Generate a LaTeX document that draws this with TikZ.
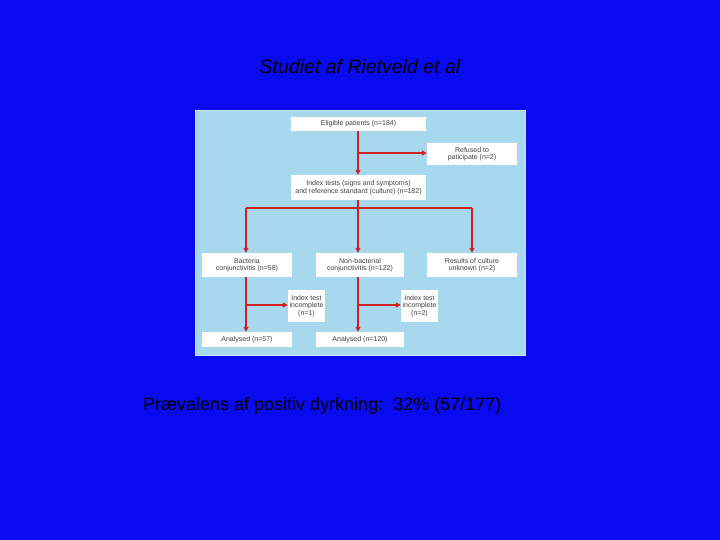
\documentclass[tikz,border=0pt]{standalone}
\usepackage{fontspec}
\setmainfont{Liberation Sans}
\usetikzlibrary{arrows.meta}
\definecolor{bg}{HTML}{0A0AF0}
\definecolor{panel}{HTML}{A8D8EE}
\definecolor{ar}{HTML}{D02020}
\begin{document}
\begin{tikzpicture}[x=1pt,y=-1pt,
  box/.style={draw=none,fill=white,align=center,font=\fontsize{7}{7.4}\selectfont,text=black!75,inner sep=0pt},
  ln/.style={draw=ar,line width=1.2pt},
  arr/.style={ln,-{Triangle[length=5pt,width=5pt]}}]
\useasboundingbox[fill=bg] (0,0) rectangle (720,540);
\node[font=\itshape\fontsize{19.5}{22}\selectfont,text=black] (title) at (360,67) {Studiet af Rietveld et al};
\node[fill=panel,draw=panel!70!white,line width=1pt,minimum width=330,minimum height=245,inner sep=0pt,anchor=north west] (panel) at (195,110) {};
\node[box,minimum width=135,minimum height=14] (elig) at (358.5,124) {Eligible patients (n=184)};
\node[box,minimum width=90,minimum height=22] (ref) at (472,154) {Refused to\\paticipate (n=2)};
\node[box,minimum width=135,minimum height=25] (idx) at (358.5,187.5) {Index tests (signs and symptoms)\\and reference standard (culture) (n=182)};
\node[box,minimum width=90,minimum height=24] (bac) at (247,265) {Bacteria\\conjunctivitis (n=58)};
\node[box,minimum width=88,minimum height=24] (non) at (360,265) {Non-bacterial\\conjunctivitis (n=122)};
\node[box,minimum width=90,minimum height=24] (res) at (472,265) {Results of culture\\unknown (n=2)};
\node[box,minimum width=37,minimum height=32] (inc1) at (306.5,306) {Index test\\incomplete\\(n=1)};
\node[box,minimum width=37,minimum height=32] (inc2) at (419.5,306) {Index test\\incomplete\\(n=2)};
\node[box,minimum width=90,minimum height=15] (an1) at (247,339.5) {Analysed (n=57)};
\node[box,minimum width=88,minimum height=15] (an2) at (360,339.5) {Analysed (n=120)};
\coordinate (m) at (358,153);
\coordinate (b) at (358,208);
\coordinate (bl) at (246,208);
\coordinate (br) at (472,208);
\coordinate (s1) at (246,305);
\coordinate (s2) at (358,305);
\draw[arr] (elig.south -| m) -- (idx.north -| m);
\draw[arr] (m) -- (ref.west |- m);
\draw[ln] (idx.south -| b) -- (b);
\draw[ln] (bl) -- (br);
\draw[arr] (b) -- (non.north -| b);
\draw[arr] (bl) -- (bac.north -| bl);
\draw[arr] (br) -- (res.north -| br);
\draw[arr] (bac.south -| s1) -- (an1.north -| s1);
\draw[arr] (s1) -- (inc1.west |- s1);
\draw[arr] (non.south -| s2) -- (an2.north -| s2);
\draw[arr] (s2) -- (inc2.west |- s2);
\node[font=\fontsize{18}{21}\selectfont,text=black,anchor=west,inner sep=0pt] (prev) at (143,406) {Prævalens af positiv dyrkning:\ \ 32\% (57/177)};
\end{tikzpicture}
\end{document}
